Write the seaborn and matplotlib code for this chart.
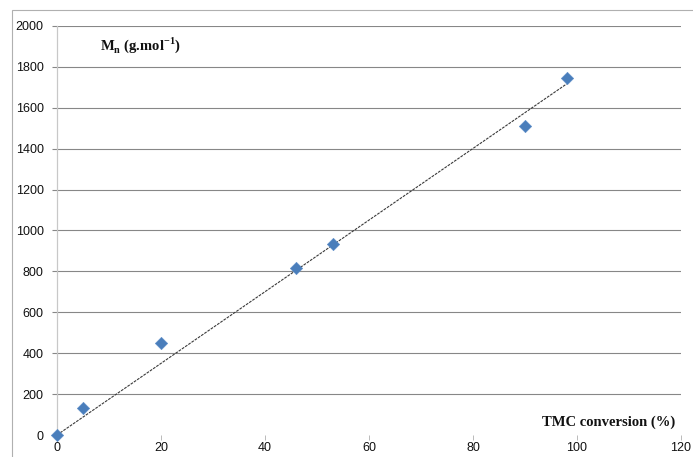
import matplotlib
matplotlib.use("Agg")
import matplotlib.pyplot as plt
from matplotlib.patches import Rectangle
import seaborn as sns
import numpy as np
import pandas as pd

# data
conversion = [0, 5, 20, 46, 53, 90, 98]
mn_values = [0, 133, 448, 815, 934, 1511, 1747]
x_ticks = [0, 20, 40, 60, 80, 100, 120]
y_ticks = [0, 200, 400, 600, 800, 1000, 1200, 1400, 1600, 1800, 2000]

df = pd.DataFrame({"conversion": conversion, "Mn": mn_values})

# linear trend line forced through the origin (as in the Excel chart)
xa = np.asarray(conversion, float)
ya = np.asarray(mn_values, float)
slope = (xa * ya).sum() / (xa * xa).sum()
trend = pd.DataFrame({"conversion": [xa.min(), xa.max()]})
trend["Mn"] = slope * trend["conversion"]

sns.set_theme(style="white")
plt.rcParams["font.family"] = ["Liberation Sans", "DejaVu Sans"]

W, H = 693, 457
fig = plt.figure(figsize=(W / 100, H / 100), dpi=100)
ax = fig.add_axes([57 / W, (H - 435) / H, (681 - 57) / W, (435 - 26) / H])

# outer chart border (cropped Excel chart frame)
fig.patches.append(Rectangle((12 / W, -0.1), 1.2, 1.1 - 10 / H, transform=fig.transFigure,
                             fill=False, edgecolor="#b0b0b0", lw=0.8))

grid_c = "#878787"
ax.set_xlim(0, 120)
ax.set_ylim(0, 2000)
ax.set_xticks(x_ticks)
ax.set_yticks(y_ticks)
ax.yaxis.grid(True, color=grid_c, lw=0.8)
ax.xaxis.grid(False)

sns.lineplot(data=trend, x="conversion", y="Mn", ax=ax, color="#3a3a3a", lw=0.8,
             ls=(0, (2.5, 1)))
sns.scatterplot(data=df, x="conversion", y="Mn", marker="D", s=40, color="#4a7ebb",
                edgecolor="#5a8cc8", linewidth=0.4, ax=ax, clip_on=False, zorder=5)

for s in ["top", "right", "bottom"]:
    ax.spines[s].set_visible(False)
ax.spines["left"].set_color("#c8c8c8")
ax.spines["left"].set_linewidth(0.9)

ax.tick_params(axis="y", direction="out", length=3.6, width=0.8, color=grid_c,
               pad=6, labelsize=9, labelcolor="#111111", left=True)
ax.tick_params(axis="x", direction="out", length=3.6, width=0.6, color="#b0b0b0",
               pad=1.5, labelsize=9, labelcolor="#111111", bottom=True)
ax.set_xlabel("")
ax.set_ylabel("")

ax.text(0.069, 0.953, r"M$_\mathregular{n}$ (g.mol$^\mathregular{-1}$)",
        transform=ax.transAxes, ha="left", va="center", fontsize=10.5,
        fontweight="bold", family=["Liberation Serif"], color="#111111")
ax.text(0.99, 0.032, "TMC conversion (%)", transform=ax.transAxes, ha="right",
        va="center", fontsize=10.5, fontweight="bold", family=["Liberation Serif"],
        color="#111111")

fig.canvas.draw()
ax.get_ygridlines()[0].set_visible(False)

fig.savefig("out.png", dpi=100)
